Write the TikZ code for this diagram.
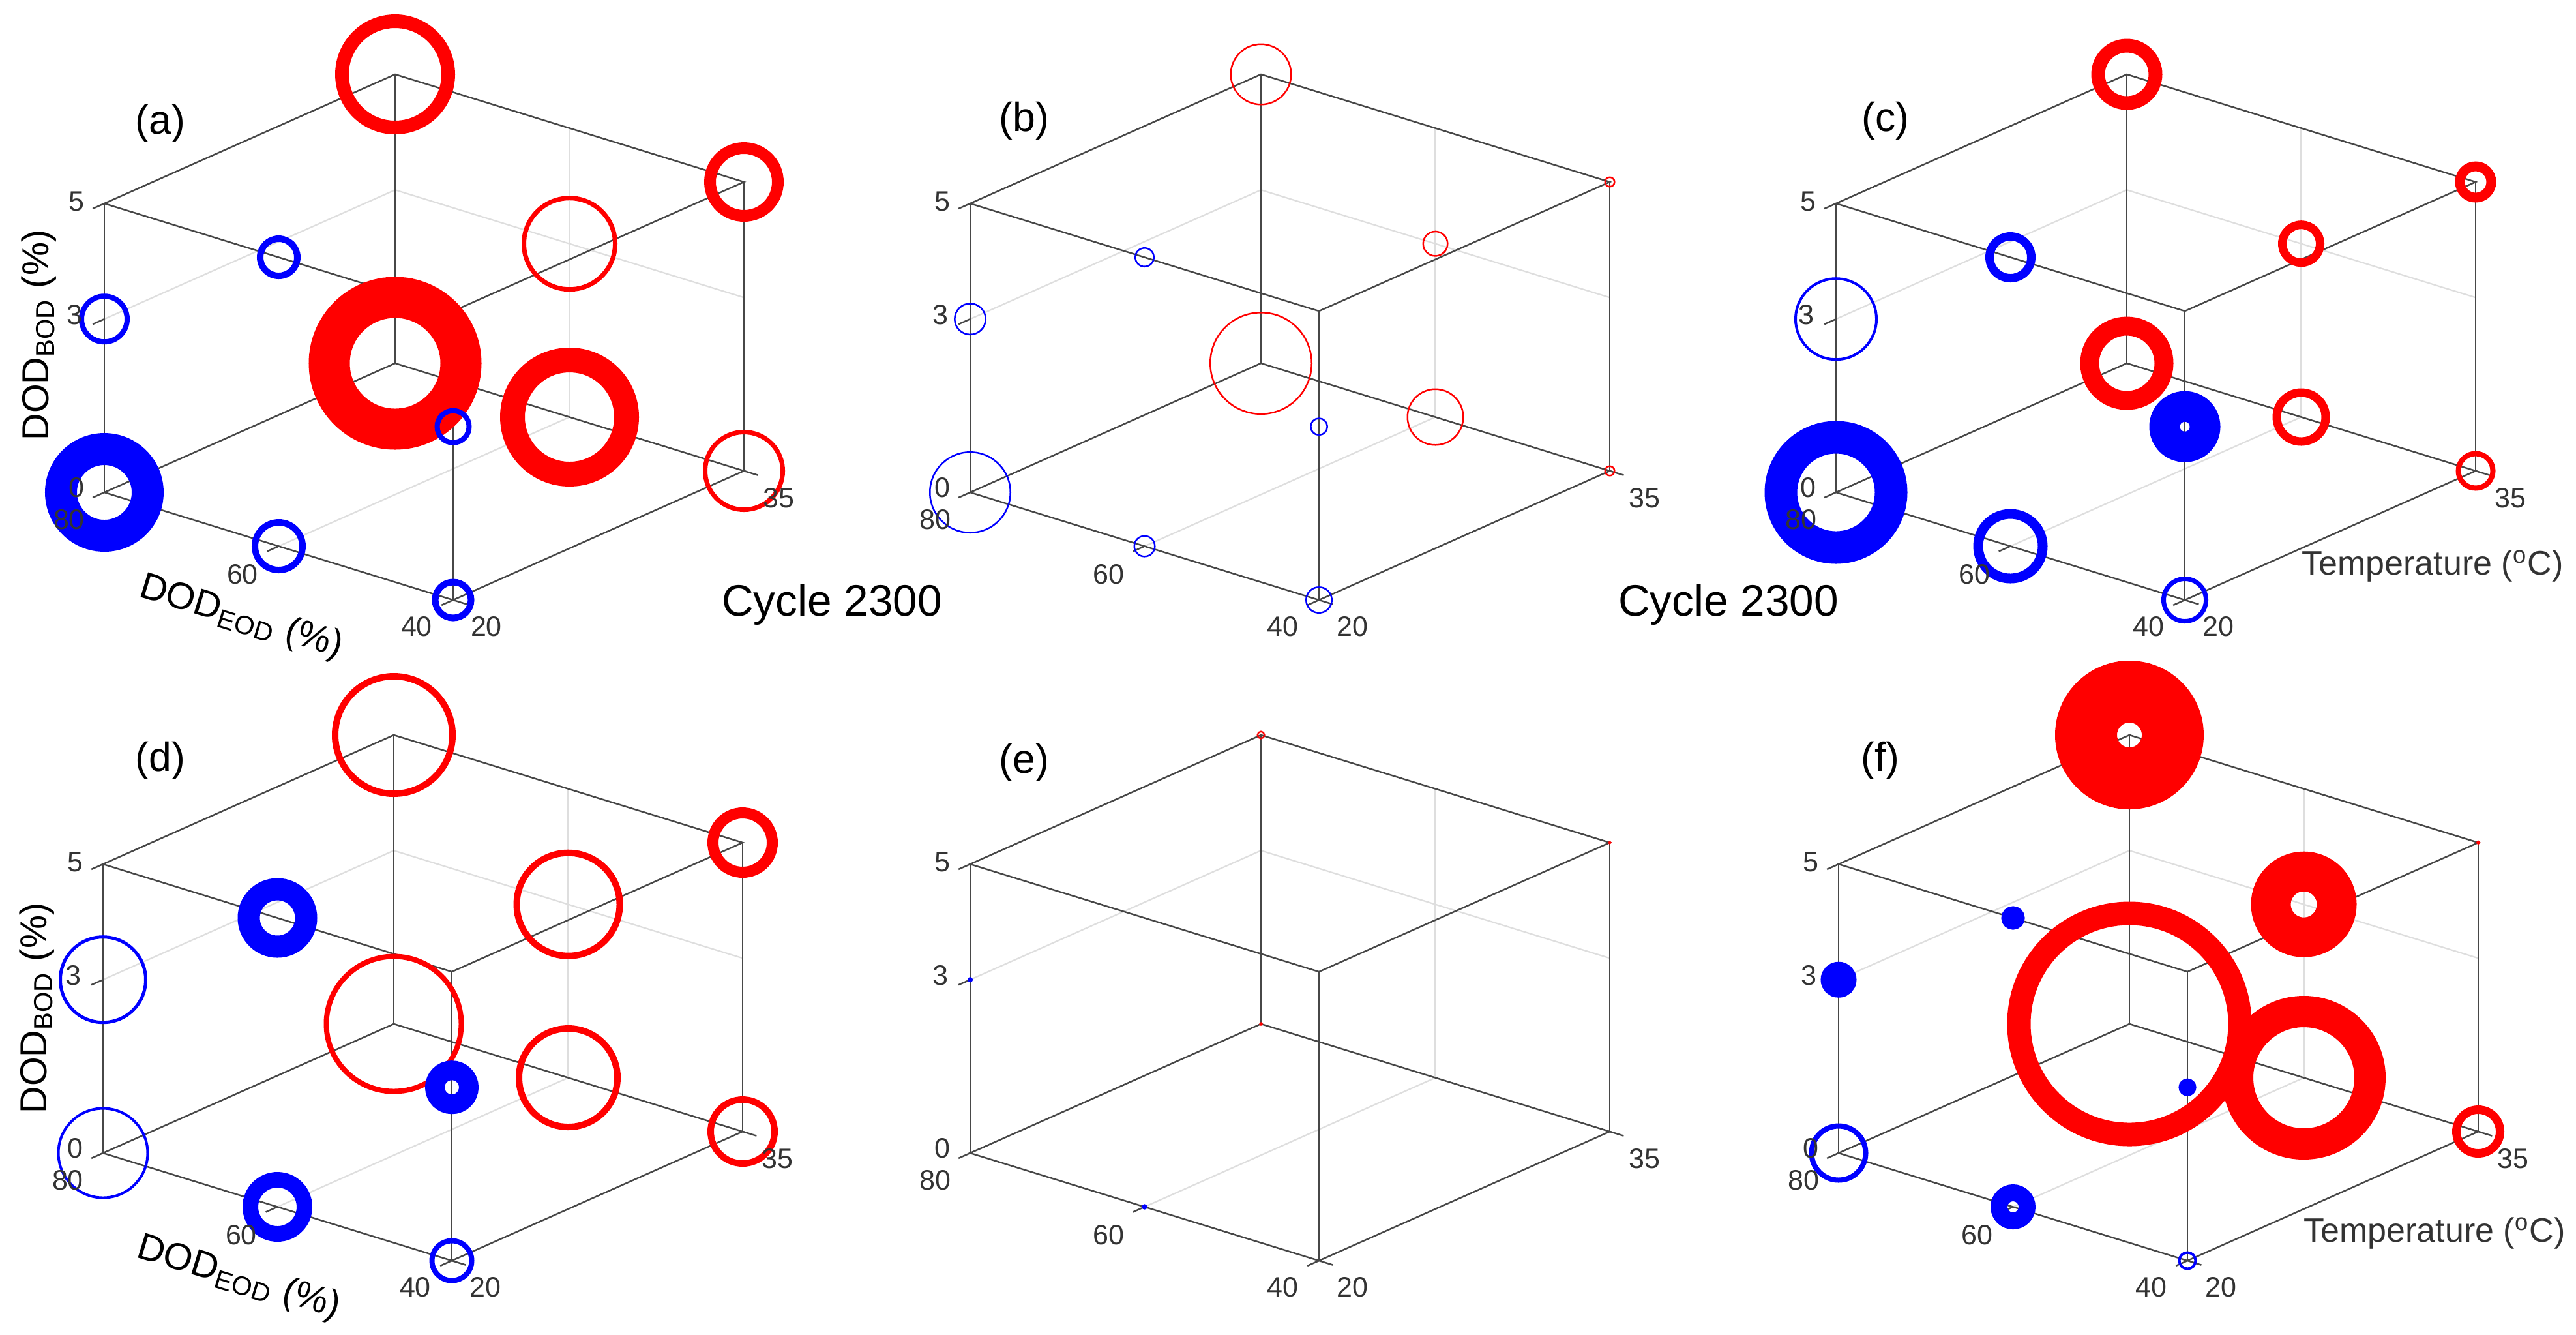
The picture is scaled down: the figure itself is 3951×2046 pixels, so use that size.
\documentclass[tikz,border=0pt]{standalone}
\usepackage{fontspec}
\setmainfont{Liberation Sans}
\begin{document}
\begin{tikzpicture}[x=0.2pt,y=-0.2pt,
  cube/.style={x={(107pt,-33pt)},y={(89.2pt,39.6pt)},z={(0pt,88.6pt)}},
  boxc/.style={draw=black!72,line width=0.5pt},
  gridc/.style={draw=black!13,line width=0.45pt},
  tl/.style={font=\fontsize{8.6pt}{9pt}\selectfont,text=black!80,inner sep=0pt},
  axl/.style={font=\fontsize{11.5pt}{12pt}\selectfont,inner sep=0pt},
  tmp/.style={font=\fontsize{10.4pt}{11pt}\selectfont,text=black!80,inner sep=0pt},
  pl/.style={font=\fontsize{12.5pt}{13pt}\selectfont,inner sep=0pt},
  cyc/.style={font=\fontsize{13.5pt}{14pt}\selectfont,inner sep=0pt}]
\useasboundingbox (0,0) rectangle (3951,2046);
\fill[white] (0,0) rectangle (3951,2046);
\newcommand\cubebox{%
  \draw[gridc] (0,0,.6)--(0,1,.6)--(1,1,.6);
  \draw[gridc] (.5,1,0)--(.5,1,1);
  \draw[gridc] (.5,0,0)--(.5,1,0);
  \draw[boxc] (0,0,0)--(1,0,0)--(1,1,0)--(0,1,0)--cycle;
  \draw[boxc] (0,0,1)--(1,0,1)--(1,1,1)--(0,1,1)--cycle;
  \draw[boxc] (0,0,0)--(0,0,1) (1,0,0)--(1,0,1) (1,1,0)--(1,1,1) (0,1,0)--(0,1,1);
  \draw[boxc] (0,0,1)--(0,-.04,1) (0,0,.6)--(0,-.04,.6) (0,0,0)--(0,-.04,0)
    (.5,0,0)--(.5,-.04,0) (1,0,0)--(1,-.04,0) (1,0,0)--(1.04,0,0) (1,1,0)--(1.04,1,0);
}
\newcommand\rg[6]{\draw[#6,line width=#5*0.2pt] (#1,#2,#3) circle[radius={(#4-#5)*0.1pt}];}
\newcommand\ticklabels{%
  \node[tl] (t5) at (-43,-446) {5};
  \node[tl] (t3) at (-46,-272) {3};
  \node[tl] (t0) at (-43,-7) {0};
  \node[tl] (t80) at (-54,42) {80};
  \node[tl] (t60) at (212,126) {60};
  \node[tl] (t40) at (479,206) {40};
  \node[tl] (t20) at (586,206) {20};
  \node[tl] (t35) at (1034,9) {35};
}
\colorlet{R}{red}\colorlet{B}{blue}
% ---------- (a)
\begin{scope}[shift={(160,755)}]
  \begin{scope}[cube]\cubebox
    \rg{0}{1}{1}{184}{21}{R}\rg{1}{1}{1}{122}{18}{R}\rg{.5}{1}{.6}{147}{7}{R}
    \rg{0}{1}{0}{265}{63}{R}\rg{.5}{1}{0}{213}{38}{R}\rg{1}{1}{0}{126}{7}{R}
    \rg{.5}{0}{1}{67}{10}{B}\rg{0}{0}{.6}{78}{8}{B}\rg{0}{0}{0}{182}{49}{B}
    \rg{.5}{0}{0}{83}{10}{B}\rg{1}{0}{.6}{57}{8}{B}\rg{1}{0}{0}{65}{10}{B}
  \end{scope}
  \ticklabels
  \node[pl] (la) at (86,-566) {(a)};
  \node[axl,rotate=90] (ya) at (-100,-241) {DOD\textsubscript{BOD} (\%)};
  \node[axl,rotate=-17] (xa) at (210,192) {DOD\textsubscript{EOD} (\%)};
\end{scope}
% ---------- (b)
\begin{scope}[shift={(1488,755)}]
  \begin{scope}[cube]\cubebox
    \rg{0}{1}{1}{95}{2.5}{R}\rg{1}{1}{1}{17}{2.5}{R}\rg{.5}{1}{.6}{40}{2.5}{R}
    \rg{0}{1}{0}{158}{2.5}{R}\rg{.5}{1}{0}{88}{2.5}{R}\rg{1}{1}{0}{17}{2.5}{R}
    \rg{.5}{0}{1}{31}{2.5}{B}\rg{0}{0}{.6}{50}{2.5}{B}\rg{0}{0}{0}{126}{2.5}{B}
    \rg{.5}{0}{0}{34}{2.5}{B}\rg{1}{0}{.6}{28}{2.5}{B}\rg{1}{0}{0}{42}{2.5}{B}
  \end{scope}
  \ticklabels
  \node[pl] (lb) at (83,-570) {(b)};
\end{scope}
% ---------- (c)
\begin{scope}[shift={(2816,755)}]
  \begin{scope}[cube]\cubebox
    \rg{0}{1}{1}{109}{21}{R}\rg{1}{1}{1}{63}{15}{R}\rg{.5}{1}{.6}{71}{13}{R}
    \rg{0}{1}{0}{143}{29}{R}\rg{.5}{1}{0}{88}{13}{R}\rg{1}{1}{0}{61}{8}{R}
    \rg{.5}{0}{1}{77}{13}{B}\rg{0}{0}{.6}{128}{4}{B}\rg{0}{0}{0}{219}{50}{B}
    \rg{.5}{0}{0}{114}{15}{B}\rg{1}{0}{.6}{109}{47}{B}\rg{1}{0}{0}{72}{7}{B}
  \end{scope}
  \ticklabels
  \node[pl] (lc) at (76,-570) {(c)};
  \node[tmp] (zc) at (915,113) {Temperature (\textsuperscript{o}C)};
\end{scope}
% ---------- (d)
\begin{scope}[shift={(158,1768)}]
  \begin{scope}[cube]\cubebox
    \rg{0}{1}{1}{190}{10}{R}\rg{1}{1}{1}{108}{17}{R}\rg{.5}{1}{.6}{168}{10}{R}
    \rg{0}{1}{0}{215}{8}{R}\rg{.5}{1}{0}{161}{10}{R}\rg{1}{1}{0}{108}{10}{R}
    \rg{.5}{0}{1}{122}{34}{B}\rg{0}{0}{.6}{136}{5}{B}\rg{0}{0}{0}{141}{4}{B}
    \rg{.5}{0}{0}{107}{24}{B}\rg{1}{0}{.6}{82}{30}{B}\rg{1}{0}{0}{69}{8}{B}
  \end{scope}
  \ticklabels
  \node[pl] (ld) at (88,-602) {(d)};
  \node[axl,rotate=90] (yd) at (-101,-222) {DOD\textsubscript{BOD} (\%)};
  \node[axl,rotate=-17] (xd) at (208,192) {DOD\textsubscript{EOD} (\%)};
\end{scope}
% ---------- (e)
\begin{scope}[shift={(1488,1768)}]
  \begin{scope}[cube]\cubebox
    \rg{0}{1}{1}{13}{2.5}{R}\rg{1}{1}{1}{5}{2.5}{R}\rg{0}{1}{0}{5}{2.5}{R}
    \rg{0}{0}{.6}{8}{4}{B}\rg{.5}{0}{0}{8}{4}{B}
  \end{scope}
  \ticklabels
  \node[pl] (le) at (83,-599) {(e)};
\end{scope}
% ---------- (f)
\begin{scope}[shift={(2820,1768)}]
  \begin{scope}[cube]\cubebox
    \rg{0}{1}{1}{228}{95}{R}\rg{1}{1}{1}{6}{3}{R}\rg{.5}{1}{.6}{162}{61}{R}
    \rg{0}{1}{0}{375}{36}{R}\rg{.5}{1}{0}{251}{48}{R}\rg{1}{1}{0}{80}{13}{R}
    \rg{.5}{0}{1}{36}{18}{B}\rg{0}{0}{.6}{55}{27.5}{B}\rg{0}{0}{0}{91}{8}{B}
    \rg{.5}{0}{0}{69}{26}{B}\rg{1}{0}{.6}{27}{13.5}{B}\rg{1}{0}{0}{29}{4}{B}
  \end{scope}
  \ticklabels
  \node[pl] (lf) at (64,-602) {(f)};
  \node[tmp] (zf) at (914,123) {Temperature (\textsuperscript{o}C)};
\end{scope}
\node[cyc] (c1) at (1276,927) {Cycle 2300};
\node[cyc] (c2) at (2651,927) {Cycle 2300};
\end{tikzpicture}
\end{document}
